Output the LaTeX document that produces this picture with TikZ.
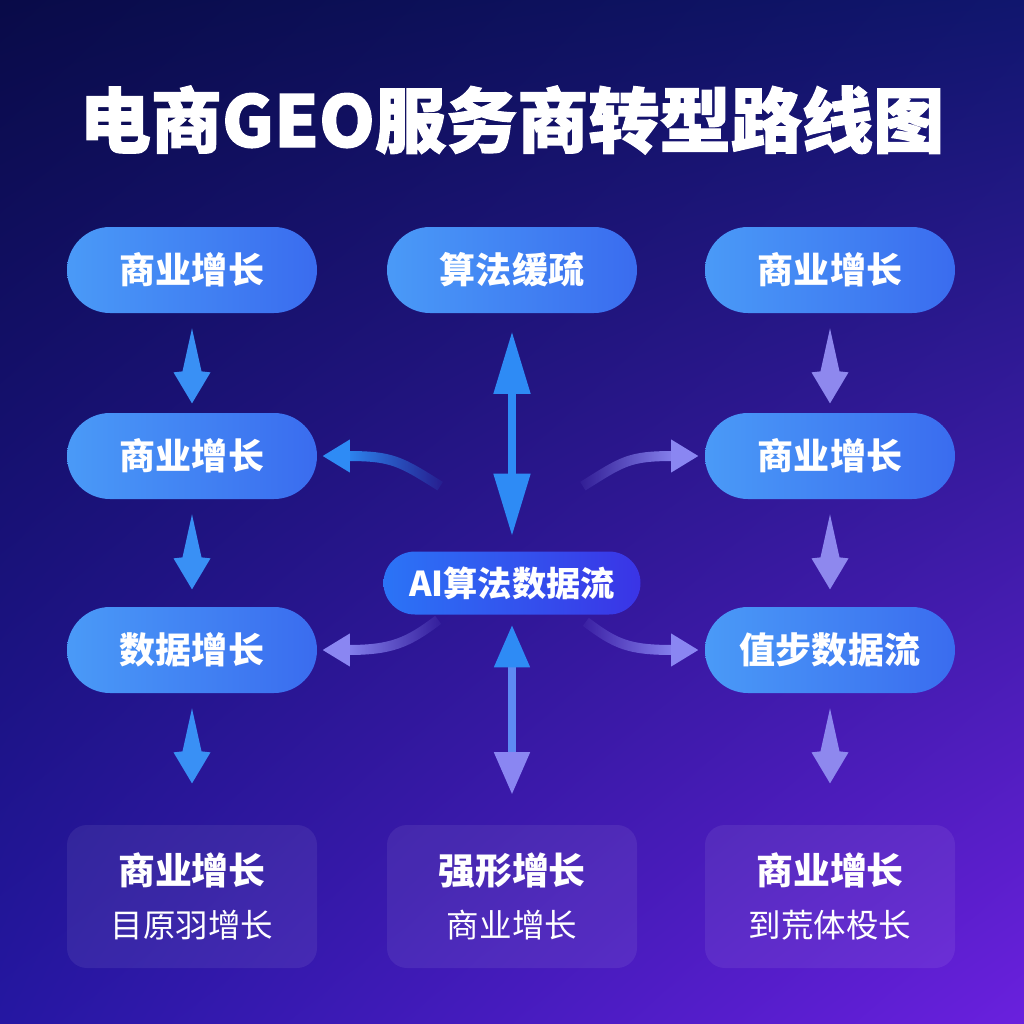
\documentclass[tikz,border=0pt]{standalone}
\usepackage{fontspec}
\newfontfamily\cjk{Noto Sans CJK SC}
\newfontfamily\cjktitle{Noto Sans CJK SC}[BoldFeatures={FakeBold=1.6}]
\usetikzlibrary{arrows.meta,positioning,calc,fadings,shadings}
\definecolor{bgA}{HTML}{090B48}
\definecolor{bgB}{HTML}{10166E}
\definecolor{bgC}{HTML}{2517A2}
\definecolor{bgD}{HTML}{6A20DE}
\definecolor{pillL}{HTML}{4A9AF7}
\definecolor{pillR}{HTML}{3A6CEF}
\definecolor{aiL}{HTML}{2B74F6}
\definecolor{aiR}{HTML}{3A34E6}
\definecolor{arrB}{HTML}{2E8BF5}
\definecolor{arrM}{HTML}{5E8AF3}
\definecolor{arrP}{HTML}{8A86F2}
\definecolor{kiteL}{HTML}{3990F5}
\definecolor{kiteR}{HTML}{8E88EE}
\tikzfading[name=fadeleft, left color=transparent!0, right color=transparent!95]
\tikzfading[name=faderight, left color=transparent!95, right color=transparent!0]
\begin{document}
\begin{tikzpicture}
\tikzset{pill/.style={rounded corners=0.86cm, minimum width=5cm, minimum height=1.72cm,
  left color=pillL, right color=pillR, text=white, inner sep=0pt,
  font=\cjk\bfseries\fontsize{20.5}{24}\selectfont}}
\tikzset{aipill/.style={pill, rounded corners=0.63cm, minimum width=5.14cm, minimum height=1.26cm,
  left color=aiL, right color=aiR, font=\cjk\bfseries\fontsize{19.5}{24}\selectfont}}
\tikzset{card/.style={rounded corners=0.4cm, minimum width=5cm, minimum height=2.86cm,
  fill=white, fill opacity=0.07, text opacity=1, text=white, align=center, inner sep=0pt}}
\tikzset{curl/.style={line width=0.2cm}}
\tikzset{curltip/.style={line width=0.2cm, -{Triangle[length=0.55cm,width=0.62cm]}}}
\useasboundingbox (0,0) rectangle (20.48,-20.48);
\shade[upper left=bgA, upper right=bgB, lower left=bgC, lower right=bgD] (0,0) rectangle (20.48,-20.48);
% title
\node[text=white, font=\cjktitle\bfseries\fontsize{40.5}{48}\selectfont] (title) at (10.24,-2.4) {电商GEO服务商转型路线图};
% left column
\node[pill] (l1) at (3.84,-5.4) {商业增长};
\node[pill] (l2) at (3.84,-9.12) {商业增长};
\node[pill] (l3) at (3.84,-13.0) {数据增长};
% center
\node[pill] (c1) at (10.24,-5.4) {算法缓疏};
\node[aipill] (ai) at (10.24,-11.66) {AI算法数据流};
% right column
\node[pill] (r1) at (16.6,-5.4) {商业增长};
\node[pill] (r2) at (16.6,-9.12) {商业增长};
\node[pill] (r3) at (16.6,-13.0) {值步数据流};
% cards
\node[card] (b1) at (3.84,-17.93) {{\cjk\bfseries\fontsize{21}{26}\selectfont 商业增长}\\[0.4cm]{\cjk\fontsize{18.5}{22}\selectfont 目原羽增长}};
\node[card] (b2) at (10.24,-17.93) {{\cjk\bfseries\fontsize{21}{26}\selectfont 强形增长}\\[0.4cm]{\cjk\fontsize{18.5}{22}\selectfont 商业增长}};
\node[card] (b3) at (16.6,-17.93) {{\cjk\bfseries\fontsize{21}{26}\selectfont 商业增长}\\[0.4cm]{\cjk\fontsize{18.5}{22}\selectfont 到荒体杸长}};
% column arrows
\foreach \a/\c in {l1/kiteL, l2/kiteL, l3/kiteL, r1/kiteR, r2/kiteR, r3/kiteR}
  \fill[fill=\c] ([yshift=-0.3cm]\a.south) -- ++(0.19,-0.86) -- ++(0.18,-0.02)
    -- ++(-0.37,-0.62) -- ++(-0.37,0.62) -- ++(0.18,0.02) -- cycle;
% center arrows
\draw[line width=0.16cm, draw=arrB, {Triangle[length=1.25cm,width=0.7cm]}-{Triangle[length=1.25cm,width=0.7cm]},
  shorten <=0.36cm, shorten >=0.3cm] (c1.south) -- (ai.north);
\draw[line width=0.16cm, draw=arrM, {Triangle[length=0.85cm,width=0.68cm,color=arrB]}-{Triangle[length=0.85cm,width=0.68cm,color=arrP]},
  shorten <=0.2cm, shorten >=0.6cm] (ai.south) -- (b2.north);
% curved arrows
\coordinate (ul) at ([xshift=0.1cm]l2.east);
\coordinate (ur) at ([xshift=-0.12cm]r2.west);
\coordinate (dl) at ([xshift=0.1cm]l3.east);
\coordinate (dr) at ([xshift=-0.12cm]r3.west);
\draw[curl, draw=arrB, path fading=fadeleft] ($(ai.north west)+(1.14,1.3)$) .. controls +(-0.8,0.5) and +(0.9,0) .. ([xshift=0.5cm]ul);
\draw[curltip, draw=arrB] ([xshift=0.55cm]ul) -- (ul);
\draw[curl, draw=arrP, path fading=faderight] ($(ai.north east)+(-1.16,1.3)$) .. controls +(0.8,0.5) and +(-0.9,0) .. ([xshift=-0.5cm]ur);
\draw[curltip, draw=arrP] ([xshift=-0.55cm]ur) -- (ur);
\draw[curl, draw=arrP, path fading=fadeleft] ($(ai.south west)+(1.1,-0.1)$) .. controls +(-0.6,-0.45) and +(0.9,0) .. ([xshift=0.5cm]dl);
\draw[curltip, draw=arrP] ([xshift=0.55cm]dl) -- (dl);
\draw[curl, draw=arrP, path fading=faderight] ($(ai.south east)+(-1.1,-0.14)$) .. controls +(0.6,-0.45) and +(-0.9,0) .. ([xshift=-0.5cm]dr);
\draw[curltip, draw=arrP] ([xshift=-0.55cm]dr) -- (dr);
\end{tikzpicture}
\end{document}
